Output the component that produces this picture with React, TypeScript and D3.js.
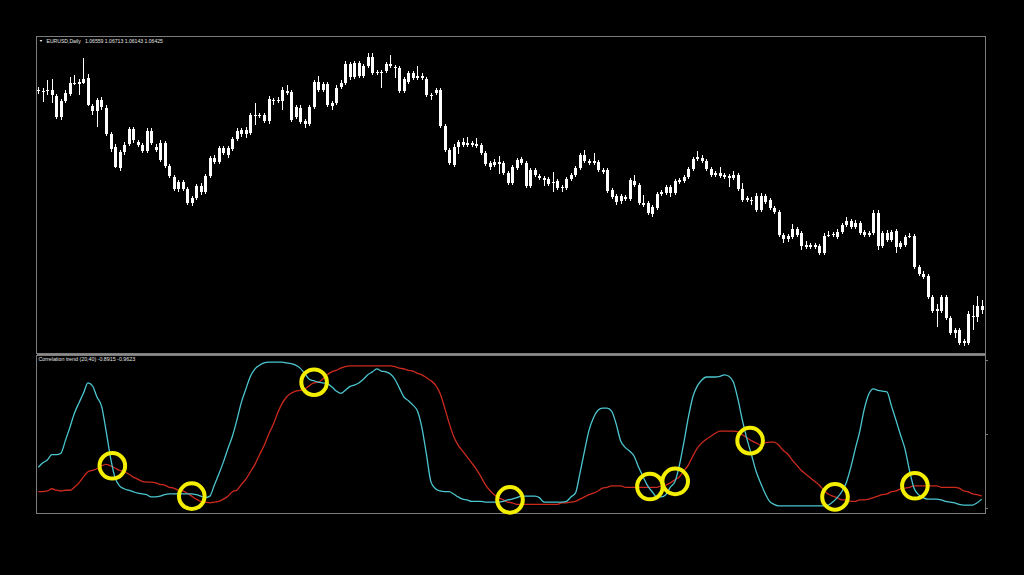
import React from 'react';
import * as d3 from 'd3';

const symbolLabel = 'EURUSD,Daily';
const ohlcLabel = ['1.06559', '1.06713', '1.06143', '1.06425'];
const indicatorLabel = 'Correlation trend (20,40) -0.8915 -0.9623';

const opens = [
1.0860,1.0859,1.0859,1.0860,1.0854,1.0833,1.0849,1.0856,1.0867,1.0866,
1.0867,1.0872,1.0844,1.0839,1.0850,1.0842,1.0816,1.0803,1.0782,1.0798,
1.0806,1.0821,1.0808,1.0805,1.0799,1.0819,1.0803,1.0807,1.0807,1.0784,
1.0773,1.0761,1.0768,1.0761,1.0752,1.0752,1.0764,1.0758,1.0774,1.0792,
1.0788,1.0802,1.0795,1.0801,1.0811,1.0816,1.0820,1.0817,1.0835,1.0834,
1.0835,1.0829,1.0850,1.0849,1.0849,1.0859,1.0858,1.0833,1.0842,1.0829,
1.0826,1.0843,1.0868,1.0860,1.0866,1.0847,1.0847,1.0863,1.0867,1.0886,
1.0873,1.0887,1.0874,1.0884,1.0893,1.0878,1.0877,1.0879,1.0886,1.0883,
1.0882,1.0859,1.0868,1.0877,1.0872,1.0874,1.0871,1.0855,1.0857,1.0860,
1.0824,1.0800,1.0785,1.0803,1.0808,1.0805,1.0807,1.0806,1.0805,1.0797,
1.0787,1.0785,1.0788,1.0787,1.0777,1.0767,1.0782,1.0791,1.0787,1.0764,
1.0780,1.0774,1.0772,1.0771,1.0768,1.0769,1.0763,1.0762,1.0771,1.0775,
1.0782,1.0795,1.0789,1.0787,1.0788,1.0780,1.0780,1.0760,1.0754,1.0749,
1.0753,1.0751,1.0769,1.0765,1.0747,1.0747,1.0736,1.0742,1.0756,1.0757,
1.0763,1.0757,1.0768,1.0769,1.0773,1.0781,1.0791,1.0792,1.0789,1.0781,
1.0775,1.0777,1.0775,1.0774,1.0772,1.0775,1.0761,1.0752,1.0750,1.0754,
1.0740,1.0754,1.0750,1.0742,1.0738,1.0715,1.0711,1.0713,1.0721,1.0717,
1.0705,1.0703,1.0705,1.0704,1.0697,1.0714,1.0715,1.0713,1.0718,1.0725,
1.0729,1.0723,1.0727,1.0718,1.0715,1.0717,1.0737,1.0704,1.0717,1.0710,
1.0719,1.0703,1.0705,1.0713,1.0714,1.0683,1.0676,1.0674,1.0653,1.0641,
1.0639,1.0653,1.0632,1.0617,1.0620,1.0609,1.0607,1.0634,1.0633,1.0644,
];

const highs = [
1.0863,1.0862,1.0870,1.0871,1.0856,1.0851,1.0860,1.0873,1.0875,1.0871,
1.0892,1.0876,1.0846,1.0852,1.0853,1.0845,1.0818,1.0806,1.0800,1.0808,
1.0823,1.0823,1.0810,1.0807,1.0822,1.0822,1.0806,1.0810,1.0809,1.0786,
1.0775,1.0770,1.0770,1.0763,1.0754,1.0766,1.0767,1.0776,1.0794,1.0795,
1.0804,1.0804,1.0804,1.0813,1.0822,1.0822,1.0823,1.0837,1.0847,1.0837,
1.0837,1.0854,1.0852,1.0853,1.0863,1.0865,1.0860,1.0845,1.0845,1.0831,
1.0845,1.0870,1.0874,1.0868,1.0868,1.0849,1.0865,1.0870,1.0889,1.0888,
1.0889,1.0889,1.0886,1.0897,1.0897,1.0880,1.0880,1.0888,1.0895,1.0885,
1.0884,1.0873,1.0879,1.0879,1.0884,1.0877,1.0873,1.0857,1.0862,1.0862,
1.0826,1.0802,1.0806,1.0810,1.0812,1.0813,1.0809,1.0812,1.0807,1.0799,
1.0789,1.0791,1.0794,1.0789,1.0779,1.0785,1.0792,1.0793,1.0789,1.0782,
1.0782,1.0776,1.0774,1.0773,1.0778,1.0771,1.0765,1.0773,1.0777,1.0784,
1.0797,1.0800,1.0791,1.0797,1.0790,1.0782,1.0782,1.0762,1.0756,1.0756,
1.0755,1.0772,1.0775,1.0767,1.0755,1.0749,1.0745,1.0758,1.0760,1.0765,
1.0765,1.0771,1.0772,1.0775,1.0783,1.0793,1.0799,1.0795,1.0791,1.0783,
1.0779,1.0783,1.0777,1.0776,1.0779,1.0777,1.0767,1.0754,1.0753,1.0757,
1.0757,1.0756,1.0752,1.0744,1.0740,1.0717,1.0716,1.0726,1.0723,1.0719,
1.0709,1.0707,1.0707,1.0706,1.0717,1.0719,1.0718,1.0721,1.0727,1.0733,
1.0731,1.0730,1.0729,1.0720,1.0719,1.0740,1.0740,1.0719,1.0720,1.0720,
1.0721,1.0709,1.0715,1.0717,1.0716,1.0685,1.0679,1.0676,1.0655,1.0646,
1.0655,1.0655,1.0634,1.0622,1.0622,1.0611,1.0639,1.0645,1.0654,1.0650,
];

const lows = [
1.0856,1.0848,1.0855,1.0847,1.0831,1.0830,1.0847,1.0854,1.0865,1.0855,
1.0866,1.0844,1.0835,1.0823,1.0840,1.0814,1.0798,1.0782,1.0779,1.0795,
1.0804,1.0807,1.0803,1.0797,1.0797,1.0805,1.0798,1.0788,1.0782,1.0772,
1.0759,1.0758,1.0759,1.0745,1.0744,1.0750,1.0755,1.0756,1.0772,1.0786,
1.0786,1.0795,1.0792,1.0799,1.0809,1.0813,1.0812,1.0815,1.0825,1.0832,
1.0827,1.0826,1.0845,1.0847,1.0840,1.0855,1.0828,1.0831,1.0826,1.0822,
1.0824,1.0841,1.0858,1.0858,1.0843,1.0840,1.0845,1.0861,1.0865,1.0870,
1.0871,1.0872,1.0872,1.0882,1.0875,1.0875,1.0862,1.0877,1.0882,1.0872,
1.0857,1.0857,1.0866,1.0870,1.0870,1.0870,1.0853,1.0850,1.0855,1.0822,
1.0798,1.0785,1.0783,1.0796,1.0803,1.0803,1.0803,1.0802,1.0795,1.0784,
1.0780,1.0783,1.0776,1.0775,1.0765,1.0765,1.0780,1.0785,1.0762,1.0762,
1.0773,1.0770,1.0764,1.0764,1.0758,1.0760,1.0758,1.0760,1.0769,1.0773,
1.0780,1.0787,1.0785,1.0785,1.0778,1.0776,1.0757,1.0751,1.0745,1.0746,
1.0749,1.0749,1.0763,1.0745,1.0743,1.0735,1.0733,1.0740,1.0754,1.0755,
1.0753,1.0755,1.0766,1.0767,1.0771,1.0779,1.0789,1.0787,1.0779,1.0773,
1.0773,1.0772,1.0771,1.0763,1.0770,1.0759,1.0748,1.0748,1.0745,1.0738,
1.0738,1.0746,1.0740,1.0736,1.0713,1.0707,1.0708,1.0711,1.0713,1.0700,
1.0701,1.0701,1.0701,1.0695,1.0695,1.0713,1.0713,1.0711,1.0716,1.0723,
1.0721,1.0721,1.0715,1.0713,1.0713,1.0715,1.0700,1.0702,1.0708,1.0708,
1.0697,1.0701,1.0703,1.0712,1.0681,1.0674,1.0671,1.0651,1.0637,1.0623,
1.0637,1.0630,1.0615,1.0612,1.0605,1.0604,1.0605,1.0620,1.0628,1.0636,
];

const closes = [
1.0859,1.0859,1.0860,1.0855,1.0833,1.0849,1.0857,1.0867,1.0867,1.0868,
1.0871,1.0845,1.0839,1.0850,1.0843,1.0816,1.0801,1.0783,1.0798,1.0805,
1.0821,1.0810,1.0805,1.0799,1.0819,1.0807,1.0800,1.0790,1.0784,1.0774,
1.0761,1.0768,1.0761,1.0747,1.0747,1.0764,1.0758,1.0774,1.0792,1.0788,
1.0802,1.0797,1.0802,1.0811,1.0819,1.0820,1.0816,1.0835,1.0834,1.0835,
1.0829,1.0851,1.0849,1.0850,1.0860,1.0857,1.0830,1.0843,1.0828,1.0826,
1.0843,1.0868,1.0860,1.0866,1.0845,1.0844,1.0862,1.0867,1.0886,1.0873,
1.0887,1.0874,1.0884,1.0893,1.0877,1.0877,1.0878,1.0886,1.0884,1.0882,
1.0859,1.0871,1.0877,1.0872,1.0874,1.0872,1.0855,1.0854,1.0860,1.0824,
1.0800,1.0787,1.0803,1.0808,1.0805,1.0807,1.0805,1.0804,1.0797,1.0786,
1.0783,1.0788,1.0786,1.0777,1.0767,1.0783,1.0790,1.0787,1.0764,1.0780,
1.0775,1.0772,1.0770,1.0766,1.0767,1.0762,1.0762,1.0771,1.0775,1.0782,
1.0795,1.0789,1.0787,1.0789,1.0780,1.0778,1.0759,1.0753,1.0748,1.0754,
1.0751,1.0770,1.0765,1.0747,1.0745,1.0737,1.0743,1.0756,1.0758,1.0763,
1.0757,1.0769,1.0770,1.0773,1.0781,1.0791,1.0793,1.0789,1.0781,1.0775,
1.0777,1.0774,1.0773,1.0772,1.0775,1.0761,1.0750,1.0750,1.0750,1.0740,
1.0754,1.0748,1.0742,1.0738,1.0715,1.0711,1.0714,1.0721,1.0715,1.0704,
1.0703,1.0705,1.0703,1.0697,1.0714,1.0715,1.0716,1.0718,1.0725,1.0729,
1.0723,1.0727,1.0717,1.0715,1.0717,1.0737,1.0704,1.0717,1.0710,1.0718,
1.0703,1.0707,1.0713,1.0714,1.0683,1.0676,1.0673,1.0653,1.0639,1.0639,
1.0653,1.0632,1.0617,1.0620,1.0607,1.0607,1.0636,1.0633,1.0644,1.0640,
];

// Correlation trend, fast (20) — cyan
const corrFast = [
-0.45,-0.39,-0.35,-0.28,-0.28,-0.26,-0.09,0.09,0.28,0.42,
0.55,0.69,0.65,0.50,0.38,0.05,-0.32,-0.59,-0.70,-0.74,
-0.76,-0.78,-0.80,-0.81,-0.82,-0.85,-0.85,-0.84,-0.82,-0.81,
-0.81,-0.81,-0.81,-0.81,-0.81,-0.82,-0.84,-0.86,-0.84,-0.69,
-0.54,-0.38,-0.20,-0.03,0.19,0.43,0.61,0.78,0.88,0.93,
0.96,0.97,0.97,0.97,0.97,0.96,0.95,0.93,0.89,0.82,
0.74,0.72,0.70,0.69,0.68,0.64,0.58,0.55,0.59,0.64,
0.66,0.69,0.74,0.80,0.84,0.88,0.85,0.84,0.81,0.74,
0.62,0.50,0.45,0.39,0.31,0.08,-0.28,-0.65,-0.74,-0.77,
-0.78,-0.78,-0.81,-0.85,-0.88,-0.89,-0.91,-0.91,-0.91,-0.92,
-0.92,-0.92,-0.92,-0.91,-0.89,-0.88,-0.86,-0.84,-0.84,-0.84,
-0.84,-0.86,-0.92,-0.92,-0.92,-0.92,-0.92,-0.91,-0.85,-0.80,
-0.53,-0.23,0.05,0.22,0.32,0.35,0.35,0.31,0.14,-0.09,
-0.18,-0.23,-0.30,-0.45,-0.58,-0.70,-0.78,-0.85,-0.85,-0.82,
-0.72,-0.65,-0.43,-0.12,0.22,0.50,0.65,0.73,0.77,0.77,
0.77,0.78,0.80,0.78,0.70,0.47,0.18,-0.07,-0.28,-0.50,
-0.66,-0.80,-0.91,-0.95,-0.97,-0.97,-0.97,-0.97,-0.97,-0.97,
-0.97,-0.97,-0.97,-0.97,-0.97,-0.96,-0.92,-0.86,-0.78,-0.66,
-0.45,-0.20,0.04,0.34,0.54,0.61,0.59,0.58,0.57,0.38,
0.19,-0.01,-0.20,-0.49,-0.73,-0.82,-0.86,-0.88,-0.88,-0.88,
-0.89,-0.91,-0.92,-0.93,-0.95,-0.96,-0.96,-0.96,-0.93,-0.88,
];

// Correlation trend, slow (40) — red
const corrSlow = [
-0.78,-0.78,-0.77,-0.74,-0.76,-0.77,-0.76,-0.76,-0.72,-0.66,
-0.58,-0.51,-0.49,-0.47,-0.43,-0.41,-0.43,-0.46,-0.49,-0.51,
-0.54,-0.58,-0.61,-0.64,-0.65,-0.65,-0.66,-0.68,-0.69,-0.72,
-0.73,-0.76,-0.77,-0.80,-0.84,-0.88,-0.91,-0.92,-0.93,-0.92,
-0.91,-0.88,-0.84,-0.78,-0.76,-0.68,-0.61,-0.51,-0.41,-0.28,
-0.16,-0.01,0.12,0.28,0.41,0.50,0.55,0.58,0.59,0.61,
0.65,0.69,0.70,0.74,0.80,0.84,0.86,0.89,0.91,0.92,
0.92,0.92,0.92,0.92,0.92,0.92,0.92,0.92,0.92,0.91,
0.89,0.88,0.86,0.85,0.82,0.80,0.76,0.72,0.66,0.55,
0.36,0.15,-0.03,-0.15,-0.23,-0.31,-0.39,-0.47,-0.57,-0.68,
-0.76,-0.82,-0.86,-0.89,-0.92,-0.93,-0.95,-0.95,-0.95,-0.95,
-0.95,-0.95,-0.95,-0.95,-0.95,-0.95,-0.93,-0.93,-0.92,-0.91,
-0.88,-0.85,-0.82,-0.80,-0.77,-0.73,-0.72,-0.70,-0.70,-0.70,
-0.72,-0.72,-0.72,-0.72,-0.72,-0.72,-0.72,-0.72,-0.70,-0.69,
-0.66,-0.62,-0.58,-0.50,-0.42,-0.30,-0.19,-0.12,-0.07,-0.03,
0.01,0.04,0.04,0.04,0.04,0.03,-0.01,-0.05,-0.09,-0.12,
-0.15,-0.12,-0.11,-0.11,-0.15,-0.22,-0.27,-0.35,-0.42,-0.49,
-0.54,-0.59,-0.64,-0.69,-0.76,-0.81,-0.84,-0.86,-0.89,-0.89,
-0.91,-0.91,-0.89,-0.89,-0.88,-0.86,-0.84,-0.82,-0.81,-0.78,
-0.77,-0.74,-0.73,-0.72,-0.70,-0.70,-0.70,-0.70,-0.70,-0.70,
-0.72,-0.72,-0.72,-0.72,-0.73,-0.77,-0.78,-0.81,-0.82,-0.84,
];

// Highlighted crossings (bar position, indicator value)
const crossIdx = [16.4, 34.0, 61.1, 104.5, 135.5, 141.1, 157.7, 176.5, 194.2];
const crossVal = [-0.43, -0.84, 0.70, -0.89, -0.71, -0.64, -0.09, -0.85, -0.70];

const indicatorTicks = [1, 0, -1];

export default function App() {
  const n = closes.length;
  const left = 36.5, right = 985.5, top = 36.5, split = 354, bottom = 513.5;

  const x = d3.scaleLinear().domain([0, n - 1]).range([38.3, 981.7]);
  const yP = d3.scaleLinear().domain([1.0596, 1.0913]).range([354, 37]);
  const yI = d3.scaleLinear().domain([-1, 1]).range([508, 360]);

  const lineGen = d3
    .line<number>()
    .x((_, i) => x(i))
    .y((d) => yI(d))
    .curve(d3.curveMonotoneX);

  const bodyW = 3;
  const font = "'Liberation Sans', Arial, sans-serif";

  return (
    <svg
      width={1024}
      height={575}
      style={{ position: 'fixed', left: 0, top: 0, display: 'block' }}
    >
      <defs>
        <clipPath id="priceClip">
          <rect x={left + 0.5} y={top + 0.5} width={right - left - 1} height={split - top - 1} />
        </clipPath>
        <clipPath id="indClip">
          <rect x={left + 0.5} y={split + 2} width={right - left - 1} height={bottom - split - 2.5} />
        </clipPath>
      </defs>
      <rect x={0} y={0} width={1024} height={575} fill="#000" />

      {/* frames */}
      <rect x={left} y={top} width={right - left} height={split - top - 0.5} fill="none" stroke="#7c7c7c" strokeWidth={1} shapeRendering="crispEdges" />
      <line x1={left} x2={right} y1={split + 0.5} y2={split + 0.5} stroke="#8a8a8a" strokeWidth={2} shapeRendering="crispEdges" />
      <rect x={left} y={split + 1.5} width={right - left} height={bottom - split - 1.5} fill="none" stroke="#7c7c7c" strokeWidth={1} shapeRendering="crispEdges" />
      {indicatorTicks.map((t) => (
        <line key={t} x1={right} x2={right + 2.5} y1={Math.round(yI(t)) + 0.5} y2={Math.round(yI(t)) + 0.5} stroke="#7c7c7c" strokeWidth={1} shapeRendering="crispEdges" />
      ))}

      {/* candles */}
      <g clipPath="url(#priceClip)" shapeRendering="crispEdges">
        {closes.map((c, i) => {
          const o = opens[i];
          const cx = Math.round(x(i));
          const yTop = yP(Math.max(o, c));
          const yBot = yP(Math.min(o, c));
          return (
            <g key={i}>
              <line x1={cx + 0.5} x2={cx + 0.5} y1={yP(highs[i])} y2={yP(lows[i])} stroke="#ffffff" strokeWidth={1} />
              <rect x={cx - 1} y={yTop} width={bodyW} height={Math.max(1.2, yBot - yTop)} fill="#ffffff" />
            </g>
          );
        })}
      </g>

      {/* header */}
      <path d={`M${left + 3},${top + 3.5} L${left + 6},${top + 3.5} L${left + 4.5},${top + 5.5} Z`} fill="#e6e6e6" />
      <text x={left + 10} y={top + 6} fontFamily={font} fontSize={5.1} fill="#e6e6e6" style={{ whiteSpace: 'pre' }}>
        {`${symbolLabel}   ${ohlcLabel.join(' ')}`}
      </text>

      {/* indicator */}
      <text x={left + 2} y={split + 6.5} fontFamily={font} fontSize={5.3} fill="#e6e6e6">
        {indicatorLabel}
      </text>
      <g clipPath="url(#indClip)">
        <path d={lineGen(corrSlow) || ''} fill="none" stroke="#cc2a1e" strokeWidth={1.3} />
        <path d={lineGen(corrFast) || ''} fill="none" stroke="#4cc6cf" strokeWidth={1.3} />
      </g>
      {crossIdx.map((ci, k) => (
        <circle key={k} cx={x(ci)} cy={yI(crossVal[k])} r={12.8} fill="none" stroke="#f4ef00" strokeWidth={4} />
      ))}
    </svg>
  );
}
